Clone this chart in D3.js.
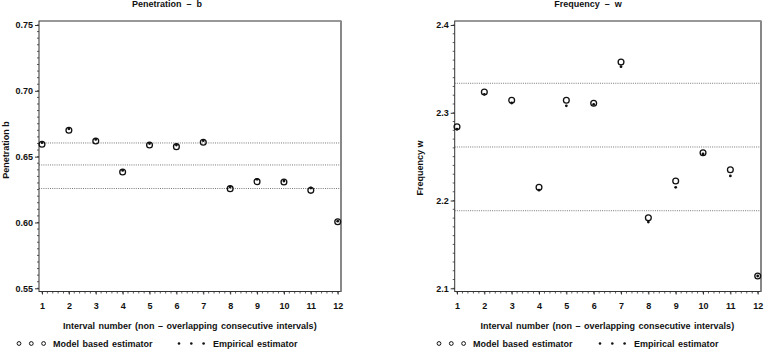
<!DOCTYPE html>
<html><head><meta charset="utf-8">
<script src="https://cdn.jsdelivr.net/npm/d3@7"></script>
<style>body{margin:0;background:#fff}svg{display:block}text{font-family:"Liberation Sans",Arial,sans-serif;fill:#111}</style>
</head><body>
<script>
const intervals = [1,2,3,4,5,6,7,8,9,10,11,12];
const penModel = [0.6594,0.6700,0.6619,0.6383,0.6588,0.6576,0.6609,0.6257,0.6310,0.6307,0.6244,0.6006];
const penEmp   = [0.6606,0.6712,0.6631,0.6395,0.6600,0.6588,0.6621,0.6269,0.6328,0.6315,0.6262,0.6010];
const penLines = [0.6604,0.6437,0.6258];
const penTicks = [0.55,0.60,0.65,0.70,0.75];
const freqModel = [2.2841,2.3237,2.3142,2.2151,2.3142,2.3109,2.3578,2.1804,2.2223,2.2545,2.2351,2.1140];
const freqEmp   = [2.2812,2.3210,2.3111,2.2118,2.3079,2.3096,2.3525,2.1755,2.2151,2.2530,2.2280,2.1140];
const freqLines = [2.3336,2.2610,2.1884];
const freqTicks = [2.1,2.2,2.3,2.4];

const svg = d3.select("body").append("svg").attr("width",771).attr("height",358);

function panel(o){
  const x = d3.scaleLinear().domain([1,12]).range([o.x1,o.x12]);
  const y = d3.scaleLinear().domain([o.ylo,o.yhi]).range([o.ybot,o.ytop]);
  const g = svg.append("g");
  const L = o.fl, R = o.fr, T = 21, B = 291.5;
  g.selectAll("line.ref").data(o.lines).join("line")
    .attr("x1",L).attr("x2",R).attr("y1",d=>y(d)).attr("y2",d=>y(d))
    .attr("stroke","#555").attr("stroke-width",0.8).attr("stroke-dasharray","1,1.2");
  g.append("rect").attr("x",L).attr("y",T).attr("width",R-L).attr("height",B-T)
    .attr("fill","none").attr("stroke","#333").attr("stroke-width",1);
  g.append("line").attr("x1",R).attr("x2",R).attr("y1",T).attr("y2",B)
    .attr("stroke","#888").attr("stroke-width",2);
  const ya = g.append("g").attr("transform",`translate(${L},0)`)
    .call(d3.axisLeft(y).tickValues(o.ticks).tickFormat(o.fmt).tickSize(4).tickPadding(2));
  ya.select(".domain").remove();
  const minorY = d3.range(Math.round(o.ylo/o.minor), Math.round(o.yhi/o.minor)+1).map(k=>k*o.minor);
  g.selectAll("line.my").data(minorY).join("line")
    .attr("x1",L-2).attr("x2",L).attr("y1",d=>y(d)).attr("y2",d=>y(d)).attr("stroke","#333").attr("stroke-width",0.8);
  const xa = g.append("g").attr("transform",`translate(0,${B})`)
    .call(d3.axisBottom(x).tickValues(intervals).tickFormat(d3.format("d")).tickSize(3).tickPadding(8));
  xa.select(".domain").remove();
  const minorX = d3.range(0,56).map(k=>1+k*0.2).filter(v=>v<=12.001);
  g.selectAll("line.mx").data(minorX).join("line")
    .attr("x1",d=>x(d)).attr("x2",d=>x(d)).attr("y1",B).attr("y2",B+2).attr("stroke","#333").attr("stroke-width",0.8);
  [ya,xa].forEach(a=>{a.selectAll("text").style("font-size","9px").style("font-weight","bold").attr("fill","#111");
    a.selectAll(".tick line").attr("stroke","#333");});
  g.selectAll("circle.m").data(o.model).join("circle")
    .attr("cx",(d,i)=>x(intervals[i])).attr("cy",d=>y(d)).attr("r",2.9)
    .attr("fill","none").attr("stroke","#111").attr("stroke-width",1.3);
  g.selectAll("circle.e").data(o.emp).join("circle")
    .attr("cx",(d,i)=>x(intervals[i])).attr("cy",d=>y(d)).attr("r",1.4).attr("fill","#111");
  g.append("text").attr("x",o.titleX).attr("y",7).attr("text-anchor","middle")
    .style("font-size","9px").style("font-weight","bold").style("white-space","pre").text(o.title);
  g.append("text").attr("x",(o.x1+o.x12)/2).attr("y",329).attr("text-anchor","middle")
    .style("font-size","9px").style("font-weight","bold").style("word-spacing","1px")
    .text("Interval number (non \u2013 overlapping consecutive intervals)");
  g.append("text").attr("transform",`translate(${o.ylabX},${o.ylabY}) rotate(-90)`).attr("text-anchor","middle")
    .style("font-size","9px").style("font-weight","bold").text(o.ylab);
  [0,1,2].forEach(k=>{
    g.append("circle").attr("cx",o.legX+k*12.3).attr("cy",343.5).attr("r",1.9)
      .attr("fill","none").attr("stroke","#111").attr("stroke-width",1);
    g.append("circle").attr("cx",o.legX2+k*12.3).attr("cy",343.5).attr("r",1.3).attr("fill","#111");
  });
  g.append("text").attr("x",o.legX+34).attr("y",347).style("font-size","9px").style("font-weight","bold").style("word-spacing","1px").text("Model based estimator");
  g.append("text").attr("x",o.legX2+34).attr("y",347).style("font-size","9px").style("font-weight","bold").style("word-spacing","1px").text("Empirical estimator");
}

panel({x1:42,x12:337.7,fl:39,fr:341,ylo:0.55,yhi:0.75,ybot:288.3,ytop:25,
  lines:penLines,ticks:penTicks,fmt:d3.format(".2f"),minor:0.005,model:penModel,emp:penEmp,
  title:"Penetration  \u2013  b",titleX:167,ylab:"Penetration b",ylabX:9,ylabY:150,legX:19,legX2:179});
panel({x1:457,x12:757.7,fl:454.7,fr:761,ylo:2.1,yhi:2.4,ybot:288.3,ytop:25,
  lines:freqLines,ticks:freqTicks,fmt:d3.format(".1f"),minor:0.01,model:freqModel,emp:freqEmp,
  title:"Frequency  \u2013  w",titleX:588,ylab:"Frequency w",ylabX:423,ylabY:168,legX:439,legX2:600});
</script>
</body></html>
